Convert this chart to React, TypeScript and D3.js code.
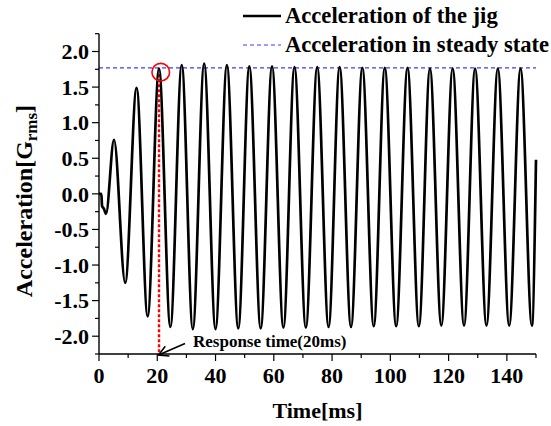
import React from 'react';
import * as d3 from 'd3';

// ---- data ----
// extrema of the jig acceleration trace (time in ms, acceleration in Grms)
const timeMs = [0, 0.8, 1.05, 1.7, 2.4, 5.15, 9.0, 12.9, 16.7, 20.6, 24.5, 28.4, 32.2, 36.1, 40.0, 43.9, 47.8, 51.6, 55.5, 59.4, 63.3, 67.1, 71.0, 74.9, 78.8, 82.6, 86.5, 90.4, 94.3, 98.1, 102.0, 105.9, 109.8, 113.6, 117.5, 121.4, 125.3, 129.1, 133.0, 136.9, 140.8, 144.7, 148.6, 150];
const accel = [0, 0, -0.17, -0.21, -0.28, 0.76, -1.25, 1.49, -1.72, 1.76, -1.87, 1.81, -1.9, 1.83, -1.9, 1.81, -1.89, 1.79, -1.89, 1.79, -1.88, 1.78, -1.88, 1.78, -1.87, 1.78, -1.87, 1.77, -1.86, 1.77, -1.86, 1.77, -1.86, 1.76, -1.85, 1.76, -1.85, 1.76, -1.85, 1.76, -1.85, 1.76, -1.85, 0.48];

const steadyState = 1.77;
const responseTime = 20.6;
const responsePeak = 1.76;
const markerPoint = [21.2, 1.71];

const xMajorTicks = [0, 20, 40, 60, 80, 100, 120, 140];
const xMinorTicks = [10, 30, 50, 70, 90, 110, 130, 150];
const yMajorTicks = [-2.0, -1.5, -1.0, -0.5, 0.0, 0.5, 1.0, 1.5, 2.0];
const yMinorTicks = [-2.25, -1.75, -1.25, -0.75, -0.25, 0.25, 0.75, 1.25, 1.75, 2.25];
const yTickLabels = ['-2.0', '-1.5', '-1.0', '-0.5', '0.0', '0.5', '1.0', '1.5', '2.0'];

const legendLabels = ['Acceleration of the jig', 'Acceleration in steady state'];
const xTitle = 'Time[ms]';
const annotation = 'Response time(20ms)';

const W = 551;
const H = 426;
const M = { left: 99, right: 536, top: 33.7, bottom: 354 };
const FONT = "'Liberation Serif', 'Times New Roman', Times, serif";
const BLUE = '#3c3cff';

export default function App() {
  const x = d3.scaleLinear().domain([0, 150]).range([M.left, M.right]);
  const y = d3.scaleLinear().domain([-2.25, 2.25]).range([M.bottom, M.top]);

  const pts: [number, number][] = timeMs.map((t, i) => [t, accel[i]]);
  const line = d3
    .line<[number, number]>()
    .x((d) => x(d[0]))
    .y((d) => y(d[1]))
    .curve(d3.curveMonotoneX);

  // annotation arrow
  const tip = { x: x(responseTime) - 0.5, y: M.bottom + 1 };
  const tail = { x: 185, y: 343.5 };
  const ang = Math.atan2(tail.y - tip.y, tail.x - tip.x);
  const hl = 11;
  const wing = (a: number) => `${tip.x + hl * Math.cos(ang + a)},${tip.y + hl * Math.sin(ang + a)}`;

  return (
    <svg
      width={W}
      height={H}
      style={{ position: 'absolute', left: 0, top: 0, background: '#fff' }}
      fontFamily={FONT}
      fontWeight="bold"
    >
      <rect x={0} y={0} width={W} height={H} fill="#fff" />

      {/* steady-state reference */}
      <line
        x1={x(0)}
        x2={x(150)}
        y1={y(steadyState)}
        y2={y(steadyState)}
        stroke={BLUE}
        strokeWidth={1.2}
        strokeDasharray="4,3"
      />

      {/* response time marker */}
      <line
        x1={x(responseTime)}
        x2={x(responseTime)}
        y1={y(responsePeak - 0.08)}
        y2={M.bottom}
        stroke="#ff0000"
        strokeWidth={2.4}
        strokeDasharray="3,2"
      />

      {/* trace */}
      <path d={line(pts) || ''} fill="none" stroke="#000" strokeWidth={2.7} strokeLinejoin="round" />

      <circle cx={x(markerPoint[0])} cy={y(markerPoint[1])} r={8.8} fill="none" stroke="#ff0000" strokeWidth={1.6} />

      {/* axes */}
      <line x1={M.left} x2={M.left} y1={M.top} y2={M.bottom} stroke="#000" strokeWidth={1.4} />
      <line x1={M.left} x2={M.right} y1={M.bottom} y2={M.bottom} stroke="#000" strokeWidth={1.4} />

      {yMajorTicks.map((v, i) => (
        <g key={'ym' + i}>
          <line x1={M.left - 7} x2={M.left} y1={y(v)} y2={y(v)} stroke="#000" strokeWidth={1.2} />
          <text x={M.left - 10} y={y(v)} dy="0.35em" textAnchor="end" fontSize={22}>
            {yTickLabels[i]}
          </text>
        </g>
      ))}
      {yMinorTicks.map((v, i) => (
        <line key={'yn' + i} x1={M.left - 4} x2={M.left} y1={y(v)} y2={y(v)} stroke="#000" strokeWidth={1.2} />
      ))}
      {xMajorTicks.map((v, i) => (
        <g key={'xm' + i}>
          <line x1={x(v)} x2={x(v)} y1={M.bottom} y2={M.bottom + 7} stroke="#000" strokeWidth={1.2} />
          <text x={x(v)} y={383} textAnchor="middle" fontSize={22}>
            {String(v)}
          </text>
        </g>
      ))}
      {xMinorTicks.map((v, i) => (
        <line key={'xn' + i} x1={x(v)} x2={x(v)} y1={M.bottom} y2={M.bottom + 4} stroke="#000" strokeWidth={1.2} />
      ))}

      {/* titles */}
      <text x={(M.left + M.right) / 2} y={418} textAnchor="middle" fontSize={22}>
        {xTitle}
      </text>
      <text transform="translate(32,201) rotate(-90)" textAnchor="middle" fontSize={24}>
        Acceleration[G
        <tspan fontSize={17} dy={5}>rms</tspan>
        <tspan dy={-5}>]</tspan>
      </text>

      {/* annotation */}
      <text x={193} y={347} fontSize={17}>
        {annotation}
      </text>
      <line x1={tail.x} y1={tail.y} x2={tip.x} y2={tip.y} stroke="#000" strokeWidth={1.6} />
      <polyline points={`${wing(0.5)} ${tip.x},${tip.y} ${wing(-0.5)}`} fill="none" stroke="#000" strokeWidth={1.6} />

      {/* legend */}
      <line x1={243} x2={281} y1={16} y2={16} stroke="#000" strokeWidth={2.7} />
      <text x={285} y={23} fontSize={22.6}>
        {legendLabels[0]}
      </text>
      <line x1={243} x2={281} y1={45} y2={45} stroke={BLUE} strokeWidth={1.2} strokeDasharray="4,3" />
      <text x={285} y={52} fontSize={22.6}>
        {legendLabels[1]}
      </text>
    </svg>
  );
}
